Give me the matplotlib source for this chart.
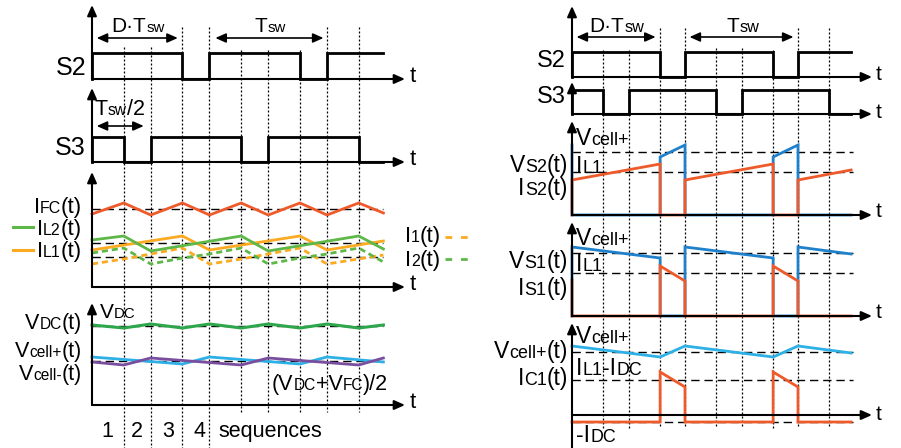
"""
plot.py

Switching waveforms of the interleaved converter: gate signals, currents and
voltages (left) and switch / capacitor waveforms (right).
"""

import matplotlib.pyplot as plt

# Use an Arial-like font for every label
plt.rcParams["font.family"] = ["Liberation Sans", "DejaVu Sans"]

# ---------------------------------------------------------------------------
# Data (time in units of Tsw, levels in pixels above each panel's time axis)
# ---------------------------------------------------------------------------

# switching instants where the dotted guide lines are drawn
edges_left = [0.27, 0.5, 0.77, 1.0, 1.27, 1.5, 1.77, 2.0, 2.27]
edges_right = [0.27, 0.5, 0.78, 1.0, 1.27, 1.5, 1.78, 2.0, 2.27]

# left: gate signals
s2_left_t = [0, 0, 0.77, 0.77, 1.0, 1.0, 1.77, 1.77, 2.0, 2.0, 2.48]
s2_left_v = [0, 26, 26, 0, 0, 26, 26, 0, 0, 26, 26]
s3_left_t = [0, 0, 0.27, 0.27, 0.5, 0.5, 1.27, 1.27, 1.5, 1.5, 2.27, 2.27, 2.48]
s3_left_v = [0, 25, 25, 0, 0, 25, 25, 0, 0, 25, 25, 0, 0]

# left: currents
tri_t = [0, 0.27, 0.5, 0.77, 1.0, 1.27, 1.5, 1.77, 2.0, 2.27, 2.48]
i_fc = [73, 84, 72, 84, 72, 84, 72, 84, 72, 84, 74]
i_2 = [34, 39, 23, 29, 33, 39, 23, 29, 33, 39, 25]
i_l2_t = [0, 0.27, 0.5, 1.27, 1.5, 2.27, 2.48]
i_l2 = [47, 51, 36, 51, 36, 51, 38]
i_l1_t = [0, 0.77, 1.0, 1.77, 2.0, 2.48]
i_l1 = [37, 51, 37, 51, 37, 46]
i_1_t = [0, 0.27, 0.5, 0.77, 1.0, 1.27, 1.5, 1.77, 2.0, 2.48]
i_1 = [23, 28, 33, 39, 23, 28, 33, 39, 23, 32]
i_refs = [78, 44, 30]

# left: voltages
v_dc = [80, 77, 81, 77, 81, 77, 81, 77, 81, 77, 80]
v_cellp_t = [0, 0.77, 1.0, 1.77, 2.0, 2.48]
v_cellp = [48, 41, 48, 41, 48, 43]
v_celln_t = [0, 0.27, 0.5, 1.27, 1.5, 2.27, 2.48]
v_celln = [43, 40, 47, 40, 47, 40, 47]
v_refs = [79, 44]

# right: gate signals
sq_right_t = [0, 0, 0.78, 0.78, 1.0, 1.0, 1.78, 1.78, 2.0, 2.0, 2.47]
s2_right_v = [0, 25, 25, 0, 0, 25, 25, 0, 0, 25, 25]
s3_right_t = [0, 0, 0.27, 0.27, 0.5, 0.5, 1.27, 1.27, 1.5, 1.5, 2.27, 2.27, 2.47]
s3_right_v = [0, 24, 24, 0, 0, 24, 24, 0, 0, 24, 24, 0, 0]

# right: switch S2, switch S1 and capacitor C1 waveforms (on sq_right_t)
v_s2 = [70, 0, 0, 58, 70, 0, 0, 58, 70, 0, 0]
i_s2 = [0, 35, 51, 0, 0, 35, 51, 0, 0, 35, 45]
v_s1 = [0, 69, 58, 0, 0, 69, 58, 0, 0, 69, 62]
i_s1 = [36, 0, 0, 50, 35, 0, 0, 50, 35, 0, 0]
i_c1 = [-7, -7, -7, 43, 28, -7, -7, 43, 28, -7, -7]
v_c1_t = [0, 0.78, 1.0, 1.78, 2.0, 2.47]
v_c1 = [69, 58, 69, 58, 69, 62]
sw_refs = [63, 43]
c1_refs = [63, 35, -7]

# colours
RED = "#EF5A2B"
GREEN = "#5DB848"
DARK_GREEN = "#2EA64B"
ORANGE = "#FBAA22"
LIGHT_BLUE = "#2DB0E6"
PURPLE = "#7A4E9F"
BLUE = "#1F80CC"

W, H = 901, 448

fig = plt.figure(figsize=(W / 100, H / 100), dpi=100)

# overlay in pixel coordinates for the labels
overlay = fig.add_axes([0, 0, 1, 1])
overlay.set_xlim(0, W)
overlay.set_ylim(H, 0)
overlay.set_axis_off()

renderer = fig.canvas.get_renderer()


def time_axes(x0, tsw):
    """Full-figure axes: x in units of Tsw (t=0 at pixel x0), y in pixels."""
    ax = fig.add_axes([0, 0, 1, 1])
    ax.set_xlim(-x0 / tsw, (W - x0) / tsw)
    ax.set_ylim(H, 0)
    ax.set_axis_off()
    return ax


def arrow(ax, start, end, lw=1.5, style="-|>"):
    ax.annotate(
        "", xy=end, xytext=start,
        arrowprops=dict(arrowstyle=style + ",head_length=0.45,head_width=0.2",
                        color="black", lw=lw, shrinkA=0, shrinkB=0,
                        mutation_scale=14),
        zorder=4,
    )


def frame(ax, base, top, tip, bottom=None):
    # vertical axis then time axis
    arrow(ax, (0, base if bottom is None else bottom), (0, top))
    arrow(ax, (0, base), (tip, base))


def wave(ax, base, t, levels, **kw):
    ax.plot(t, [base - v for v in levels], solid_joinstyle="miter", zorder=3, **kw)


def refs(ax, base, levels, t_end):
    for lv in levels:
        ax.plot([0, t_end], [base - lv, base - lv], color="black", lw=1.0,
                ls=(0, (6, 3.5)), zorder=2)


def rich(x, y, parts, size=15, ha="left", sub=0.72):
    """Text with small baseline 'subscripts': parts = [(text, small), ...]."""
    items = []
    for s, small in parts:
        t = overlay.text(0, y, s, fontsize=size * (sub if small else 1.0),
                         va="baseline", ha="left")
        items.append((t, t.get_window_extent(renderer).width))
    total = sum(w for _, w in items)
    pos = x - total if ha == "right" else x - total / 2 if ha == "center" else x
    for t, w in items:
        t.set_x(pos)
        pos += w


# ---------------------------------------------------------------------------
# Left diagram
# ---------------------------------------------------------------------------
axl = time_axes(92, 117.5)
tip_l = (405 - 92) / 117.5

guide_top_l = [47, 47, 27, 27, 50, 50, 50, 27, 27]
guide_bot_l = [448, 448, 448, 448, 412, 412, 412, 412, 412]
for t, y0, y1 in zip(edges_left, guide_top_l, guide_bot_l):
    axl.plot([t, t], [y0, y1], color="black", lw=0.9, ls=(0, (1.6, 1.6)), zorder=1)

frame(axl, 79, 5, tip_l)
frame(axl, 162, 88, tip_l)
frame(axl, 287, 172, tip_l)
frame(axl, 405, 303, tip_l)

wave(axl, 79, s2_left_t, s2_left_v, color="black", lw=2.0)
wave(axl, 162, s3_left_t, s3_left_v, color="black", lw=2.0)

refs(axl, 287, i_refs, 2.48)
wave(axl, 287, i_1_t, i_1, color=ORANGE, lw=2.0, ls=(0, (2.2, 1.4)))
wave(axl, 287, tri_t, i_2, color=GREEN, lw=2.0, ls=(0, (2.2, 1.4)))
wave(axl, 287, i_l1_t, i_l1, color=ORANGE, lw=2.0)
wave(axl, 287, i_l2_t, i_l2, color=GREEN, lw=2.0)
wave(axl, 287, tri_t, i_fc, color=RED, lw=2.0)

refs(axl, 405, v_refs, 2.48)
wave(axl, 405, tri_t, v_dc, color=DARK_GREEN, lw=2.2)
wave(axl, 405, v_cellp_t, v_cellp, color=LIGHT_BLUE, lw=2.0)
wave(axl, 405, v_celln_t, v_celln, color=PURPLE, lw=2.0)

# period annotations
arrow(axl, (0.04, 38), (0.73, 38), lw=1.2, style="<|-|>")
arrow(axl, (1.05, 38), (1.97, 38), lw=1.2, style="<|-|>")
arrow(axl, (0.04, 126), (0.44, 126), lw=1.2, style="<|-|>")

# legend swatches
overlay.plot([13, 33], [227, 227], color=GREEN, lw=2.2)
overlay.plot([13, 33], [250, 250], color=ORANGE, lw=2.2)
overlay.plot([445, 469], [237, 237], color=ORANGE, lw=2.0, ls=(0, (2.4, 3.2)))
overlay.plot([445, 469], [259, 259], color=GREEN, lw=2.0, ls=(0, (2.4, 3.2)))

rich(86, 75, [("S2", 0)], size=18, ha="right")
rich(86, 155, [("S3", 0)], size=18, ha="right")
rich(138, 32, [("D·T", 0), ("sw", 1)], size=15, ha="center")
rich(270, 32, [("T", 0), ("sw", 1)], size=15, ha="center")
rich(120, 115, [("T", 0), ("sw", 1), ("/2", 0)], size=15.5, ha="center")
rich(82, 213, [("I", 0), ("FC", 1), ("(t)", 0)], size=16, ha="right")
rich(82, 235, [("I", 0), ("L2", 1), ("(t)", 0)], size=16, ha="right")
rich(82, 257, [("I", 0), ("L1", 1), ("(t)", 0)], size=16, ha="right")
rich(405, 242, [("I", 0), ("1", 1), ("(t)", 0)], size=16)
rich(405, 266, [("I", 0), ("2", 1), ("(t)", 0)], size=16)
rich(82, 329, [("V", 0), ("DC", 1), ("(t)", 0)], size=15.5, ha="right")
rich(100, 318, [("V", 0), ("DC", 1)], size=15)
rich(82, 357, [("V", 0), ("cell+", 1), ("(t)", 0)], size=15.5, ha="right")
rich(82, 380, [("V", 0), ("cell-", 1), ("(t)", 0)], size=15.5, ha="right")
rich(272, 390, [("(V", 0), ("DC", 1), ("+V", 0), ("FC", 1), (")/2", 0)], size=15.5)
for yb in [82, 165, 290, 408]:
    rich(410, yb, [("t", 0)], size=16)
for label, xc in zip(["1", "2", "3", "4"], [107, 137, 168, 199]):
    rich(xc, 437, [(label, 0)], size=15.5, ha="center")
rich(218, 437, [("sequences", 0)], size=15.5)

# ---------------------------------------------------------------------------
# Right diagram
# ---------------------------------------------------------------------------
axr = time_axes(572, 113)
tip_r = (872 - 572) / 113

guide_top_r = [50, 50, 28, 28, 48, 48, 50, 28, 28]
for t, y0 in zip(edges_right, guide_top_r):
    axr.plot([t, t], [y0, 428], color="black", lw=0.9, ls=(0, (1.6, 1.6)), zorder=1)

frame(axr, 77, 6, tip_r)
frame(axr, 114, 82, tip_r)
frame(axr, 215, 121, tip_r)
frame(axr, 316, 222, tip_r)
frame(axr, 415, 323, tip_r, bottom=448)

wave(axr, 77, sq_right_t, s2_right_v, color="black", lw=2.0)
wave(axr, 114, s3_right_t, s3_right_v, color="black", lw=2.0)

refs(axr, 215, sw_refs, 2.49)
wave(axr, 215, sq_right_t, v_s2, color=BLUE, lw=2.0)
wave(axr, 215, sq_right_t, i_s2, color=RED, lw=2.0)

refs(axr, 316, sw_refs, 2.49)
wave(axr, 316, sq_right_t, v_s1, color=BLUE, lw=2.0)
wave(axr, 316, sq_right_t, i_s1, color=RED, lw=2.0)

refs(axr, 415, c1_refs, 2.49)
wave(axr, 415, v_c1_t, v_c1, color=LIGHT_BLUE, lw=2.0)
wave(axr, 415, sq_right_t, i_c1, color=RED, lw=2.0)

arrow(axr, (0.04, 37), (0.74, 37), lw=1.2, style="<|-|>")
arrow(axr, (1.04, 37), (1.96, 37), lw=1.2, style="<|-|>")

rich(566, 67, [("S2", 0)], size=17, ha="right")
rich(566, 103, [("S3", 0)], size=17, ha="right")
rich(617, 32, [("D·T", 0), ("sw", 1)], size=15, ha="center", sub=0.78)
rich(743, 32, [("T", 0), ("sw", 1)], size=15, ha="center", sub=0.78)

RS, RSUB = 16.5, 0.78
rich(576, 145, [("V", 0), ("cell+", 1)], size=RS, sub=RSUB)
rich(568, 172, [("V", 0), ("S2", 1), ("(t)", 0)], size=RS, ha="right", sub=RSUB)
rich(576, 173, [("I", 0), ("L1", 1)], size=RS, sub=RSUB)
rich(568, 195, [("I", 0), ("S2", 1), ("(t)", 0)], size=RS, ha="right", sub=RSUB)

rich(576, 245, [("V", 0), ("cell+", 1)], size=RS, sub=RSUB)
rich(568, 268, [("V", 0), ("S1", 1), ("(t)", 0)], size=RS, ha="right", sub=RSUB)
rich(576, 271, [("I", 0), ("L1", 1)], size=RS, sub=RSUB)
rich(568, 295, [("I", 0), ("S1", 1), ("(t)", 0)], size=RS, ha="right", sub=RSUB)

rich(576, 343, [("V", 0), ("cell+", 1)], size=RS, sub=RSUB)
rich(568, 358, [("V", 0), ("cell+", 1), ("(t)", 0)], size=RS, ha="right", sub=RSUB)
rich(576, 375, [("I", 0), ("L1", 1), ("-I", 0), ("DC", 1)], size=RS, sub=RSUB)
rich(568, 385, [("I", 0), ("C1", 1), ("(t)", 0)], size=RS, ha="right", sub=RSUB)
rich(576, 442, [("-I", 0), ("DC", 1)], size=RS, sub=RSUB)
for yb in [80, 118, 217, 318, 420]:
    rich(876, yb, [("t", 0)], size=15)

fig.savefig("out.png", dpi=100)
